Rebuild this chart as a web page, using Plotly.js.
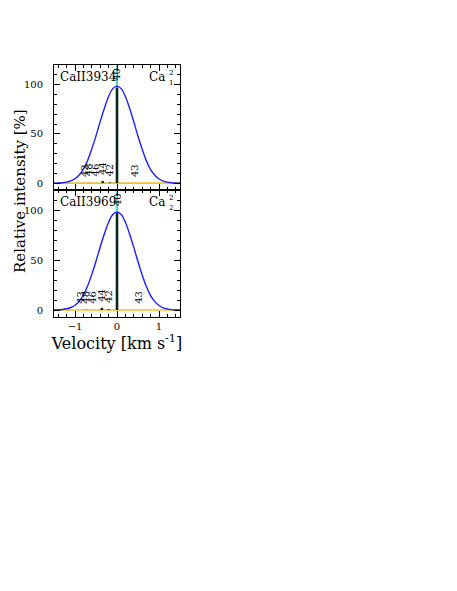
<!DOCTYPE html>
<html>
<head>
<meta charset="utf-8">
<script src="https://cdn.plot.ly/plotly-3.0.1.min.js"></script>
<style>
  html, body { margin: 0; padding: 0; background: #fff; }
  #chart { width: 457px; height: 591px; }
</style>
</head>
<body>
<div id="chart"></div>
<script>
// velocity grid of the read-off profile [km/s]
const velocity = [-1.5, -1.4, -1.3, -1.2, -1.1, -1.0, -0.9, -0.8, -0.7, -0.6, -0.5, -0.4, -0.3, -0.2, -0.1,
                  0, 0.1, 0.2, 0.3, 0.4, 0.5, 0.6, 0.7, 0.8, 0.9, 1.0, 1.1, 1.2, 1.3, 1.4, 1.5];
// CaII 3934 (top panel) relative intensity [%]
const profile3934 = [0, 0.1, 0.4, 1.0, 2.2, 4.4, 8.2, 14.2, 23.0, 34.8, 48.0, 62.5, 76.0, 88.0, 96.0,
                     98.5, 96.0, 88.0, 76.0, 62.3, 47.6, 34.4, 22.6, 13.8, 8.0, 4.2, 2.1, 1.0, 0.4, 0.1, 0];
// CaII 3969 (bottom panel)
const profile3969 = [0, 0.1, 0.5, 1.2, 2.5, 4.8, 8.8, 15.0, 24.0, 35.6, 48.8, 63.0, 76.2, 87.8, 95.6,
                     98.0, 95.6, 87.8, 76.0, 62.6, 48.2, 35.0, 23.4, 14.4, 8.4, 4.5, 2.2, 1.1, 0.4, 0.1, 0];

// isotope components
const isoLabels = ['43', '48', '46', '44', '42', '40', '43'];
const isoAbund = [0.07, 0.19, 0.004, 2.1, 0.65, 97, 0.07];
const isoVel3934 = [-0.79, -0.69, -0.52, -0.34, -0.17, 0, 0.40];
const isoVel3969 = [-0.86, -0.74, -0.60, -0.36, -0.20, 0, 0.52];

const serif = 'DejaVu Serif, serif';
const labelOffset = 13;

function barTrace(vel, xa, ya) {
  const x = [], y = [];
  vel.forEach((v, i) => { x.push(v, v, null); y.push(0, isoAbund[i], null); });
  return { x, y, xaxis: xa, yaxis: ya, mode: 'lines', line: { color: '#06261a', width: 2.6 }, hoverinfo: 'skip' };
}

function panelTraces(prof, vel, xa, ya, cyanTop) {
  return [
    { x: [velocity[0], velocity[velocity.length - 1]], y: [0, 0], xaxis: xa, yaxis: ya, mode: 'lines',
      line: { color: '#f2c22c', width: 1.6 } },
    { x: [0, 0], y: [0, cyanTop], xaxis: xa, yaxis: ya, mode: 'lines', cliponaxis: false,
      line: { color: '#13c8c8', width: 1.5 } },
    { x: velocity, y: prof, xaxis: xa, yaxis: ya, mode: 'lines',
      line: { color: '#1e1eff', width: 1.4, shape: 'spline' } },
    barTrace(vel, xa, ya)
  ];
}

const traces = [].concat(
  panelTraces(profile3934, isoVel3934, 'x2', 'y2', 125),
  panelTraces(profile3969, isoVel3969, 'x', 'y', 120)
);

function isoAnnotations(vel, xa, ya) {
  return vel.map((v, i) => ({
    x: v, y: isoAbund[i] + labelOffset, xref: xa, yref: ya, text: isoLabels[i],
    textangle: -90, showarrow: false, font: { family: serif, size: 10, color: '#000' }
  }));
}

function panelLabels(name, sup, sub, xa, ya) {
  const f = { family: serif, size: 12, color: '#000' };
  return [
    { xref: xa + ' domain', yref: ya + ' domain', x: 0.03, y: 0.905, xanchor: 'left', yanchor: 'middle',
      text: name, showarrow: false, font: f },
    { xref: xa + ' domain', yref: ya + ' domain', x: 0.9, y: 0.905, xanchor: 'right', yanchor: 'middle',
      text: 'Ca', showarrow: false, font: f },
    { xref: xa + ' domain', yref: ya + ' domain', x: 0.925, y: 0.94, xanchor: 'center', yanchor: 'middle',
      text: sup, showarrow: false, font: { family: serif, size: 7, color: '#000' } },
    { xref: xa + ' domain', yref: ya + ' domain', x: 0.925, y: 0.86, xanchor: 'center', yanchor: 'middle',
      text: sub, showarrow: false, font: { family: serif, size: 7, color: '#000' } }
  ];
}

const split = 127 / 252;

const xCommon = {
  range: [-1.5, 1.5], dtick: 1, tick0: 0, ticks: 'inside', ticklen: 6, tickwidth: 1, tickcolor: '#000',
  minor: { dtick: 0.2, ticks: 'inside', ticklen: 3, tickcolor: '#000' },
  showline: true, linecolor: '#000', linewidth: 1, mirror: 'allticks', showgrid: false, zeroline: false,
  tickfont: { family: serif, size: 10, color: '#000' }
};
const yCommon = {
  range: [-7, 120], dtick: 50, tick0: 0, ticks: 'inside', ticklen: 6, tickwidth: 1, tickcolor: '#000',
  minor: { dtick: 10, ticks: 'inside', ticklen: 3, tickcolor: '#000' },
  showline: true, linecolor: '#000', linewidth: 1, mirror: 'allticks', showgrid: false, zeroline: false,
  tickfont: { family: serif, size: 10, color: '#000' }, ticklabelstandoff: 8
};

const layout = {
  width: 457, height: 591,
  margin: { l: 54, r: 277, t: 65, b: 274 },
  paper_bgcolor: '#fff', plot_bgcolor: '#fff',
  showlegend: false,
  xaxis: Object.assign({}, xCommon, { anchor: 'y',
    title: { text: 'Velocity [km s<sup>-1</sup>]', font: { family: serif, size: 16, color: '#000' }, standoff: 2 } }),
  xaxis2: Object.assign({}, xCommon, { anchor: 'y2', matches: 'x', showticklabels: false }),
  yaxis: Object.assign({}, yCommon, { domain: [0, split], anchor: 'x' }),
  yaxis2: Object.assign({}, yCommon, { domain: [split, 1], anchor: 'x2' }),
  annotations: [].concat(
    isoAnnotations(isoVel3934, 'x2', 'y2'),
    isoAnnotations(isoVel3969, 'x', 'y'),
    panelLabels('CaII3934', '2', '1', 'x2', 'y2'),
    panelLabels('CaII3969', '2', '2', 'x', 'y'),
    [{ xref: 'paper', yref: 'paper', x: -0.27, y: 0.5, xanchor: 'center', yanchor: 'middle',
       text: 'Relative intensity [%]', textangle: -90, showarrow: false,
       font: { family: serif, size: 15, color: '#000' } }]
  )
};

Plotly.newPlot('chart', traces, layout, { displayModeBar: false, staticPlot: true });
</script>
</body>
</html>
